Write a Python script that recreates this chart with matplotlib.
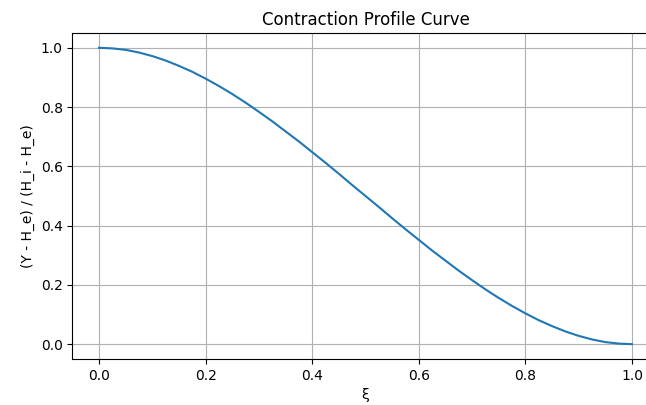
import matplotlib.pyplot as plt

# values, every 0.025
xi = [0.0, 0.025, 0.05, 0.075, 0.1, 0.125, 0.15, 0.175, 0.2, 0.225,
      0.25, 0.275, 0.3, 0.325, 0.35, 0.375, 0.4, 0.425, 0.45, 0.475,
      0.5, 0.525, 0.55, 0.575, 0.6, 0.625, 0.65, 0.675, 0.7, 0.725,
      0.75, 0.775, 0.8, 0.825, 0.85, 0.875, 0.9, 0.925, 0.95, 0.975, 1.0]
profile = [1.0, 0.998, 0.993, 0.984, 0.972, 0.957, 0.939, 0.919, 0.896, 0.871,
           0.844, 0.815, 0.784, 0.752, 0.718, 0.684, 0.648, 0.612, 0.575, 0.537,
           0.5, 0.463, 0.425, 0.388, 0.352, 0.316, 0.282, 0.248, 0.216, 0.185,
           0.156, 0.129, 0.104, 0.081, 0.061, 0.043, 0.028, 0.016, 0.007, 0.002, 0.0]

fig = plt.figure(figsize=(6.46, 4.05), dpi=100)
# the reference is cropped on the right, so the axes runs to the edge
ax = fig.add_axes([0.112, 0.1136, 0.9075, 0.805])
ax.plot(xi, profile)
ax.set_title("Contraction Profile Curve")
ax.set_xlabel("ξ")
ax.set_ylabel("(Y - H_e) / (H_i - H_e)")
ax.grid(True)
fig.savefig("out.png")
